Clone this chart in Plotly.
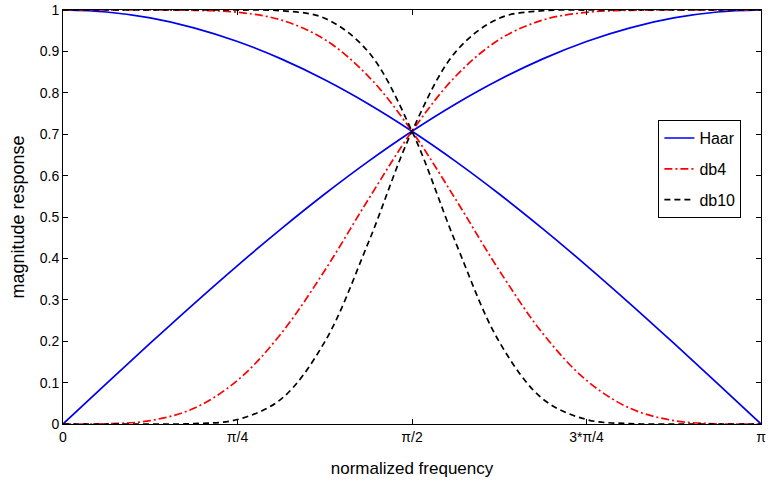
import math
import plotly.graph_objects as go

# frequency samples, in units of pi/16 (0 .. 16)
k_steps = list(range(17))

haar_low = [1.0, 0.99518, 0.98079, 0.95694, 0.92388, 0.88192, 0.83147, 0.77301, 0.70711,
            0.63439, 0.55557, 0.47140, 0.38268, 0.29028, 0.19509, 0.09802, 0.0]
haar_high = [0.0, 0.09802, 0.19509, 0.29028, 0.38268, 0.47140, 0.55557, 0.63439, 0.70711,
             0.77301, 0.83147, 0.88192, 0.92388, 0.95694, 0.98079, 0.99518, 1.0]

db4_low = [1.0, 1.0, 0.99997, 0.99928, 0.99443, 0.97585, 0.92869, 0.83991, 0.70711,
           0.54273, 0.37086, 0.21845, 0.10537, 0.03785, 0.00818, 0.00054, 0.0]
db4_high = [0.0, 0.00054, 0.00818, 0.03785, 0.10537, 0.21845, 0.37086, 0.54273, 0.70711,
            0.83991, 0.92869, 0.97585, 0.99443, 0.99928, 0.99997, 1.0, 1.0]

db10_low = [1.0, 1.0, 1.0, 1.0, 0.99994, 0.99818, 0.98011, 0.89882, 0.70711,
            0.43833, 0.19848, 0.06028, 0.01080, 0.0009, 0.0, 0.0, 0.0]
db10_high = [0.0, 0.0, 0.0, 0.0009, 0.01080, 0.06028, 0.19848, 0.43833, 0.70711,
             0.89882, 0.98011, 0.99818, 0.99994, 1.0, 1.0, 1.0, 1.0]

x_tick_vals = [0, math.pi / 4, math.pi / 2, 3 * math.pi / 4, math.pi]
x_tick_text = ["0", "π/4", "π/2", "3*π/4", "π"]
y_tick_vals = [i / 10 for i in range(11)]
y_tick_text = ["0", "0.1", "0.2", "0.3", "0.4", "0.5", "0.6", "0.7", "0.8", "0.9", "1"]

freq = [k * math.pi / 16 for k in k_steps]

series = [
    ("Haar", haar_low, haar_high, "#0000ee", "solid"),
    ("db4", db4_low, db4_high, "#ff0000", "8px,3px,2px,3px"),
    ("db10", db10_low, db10_high, "#000000", "6px,4px"),
]

fig = go.Figure()
for name, lo, hi, col, dash in series:
    for j, vals in enumerate((lo, hi)):
        fig.add_trace(go.Scatter(
            x=freq, y=vals, mode="lines", name=name, legendgroup=name,
            showlegend=(j == 0),
            line=dict(color=col, width=1.7, dash=dash, shape="spline", smoothing=1.0),
        ))

axis_common = dict(
    showgrid=False, zeroline=False, showline=True, linecolor="black", linewidth=1,
    mirror="ticks", ticks="inside", ticklen=5, tickcolor="black",
    ticklabeloverflow="allow",
    tickfont=dict(family="Liberation Sans", size=14, color="black"),
)

fig.update_layout(
    width=768, height=484,
    margin=dict(l=63, r=2, t=7, b=60),
    paper_bgcolor="white", plot_bgcolor="white",
    font=dict(family="Liberation Sans", color="black"),
    xaxis=dict(range=[0, math.pi], tickvals=x_tick_vals, ticktext=x_tick_text,
               title=dict(text="normalized frequency", font=dict(size=17), standoff=18),
               **axis_common),
    yaxis=dict(range=[0, 1], tickvals=y_tick_vals, ticktext=y_tick_text,
               title=dict(text="magnitude response", font=dict(size=18), standoff=10),
               **axis_common),
    legend=dict(x=0.853, y=0.734, xanchor="left", yanchor="top",
                bordercolor="black", borderwidth=1, bgcolor="white",
                font=dict(size=16), traceorder="grouped", tracegroupgap=7),
    showlegend=True,
)

fig.write_html("out.html")
